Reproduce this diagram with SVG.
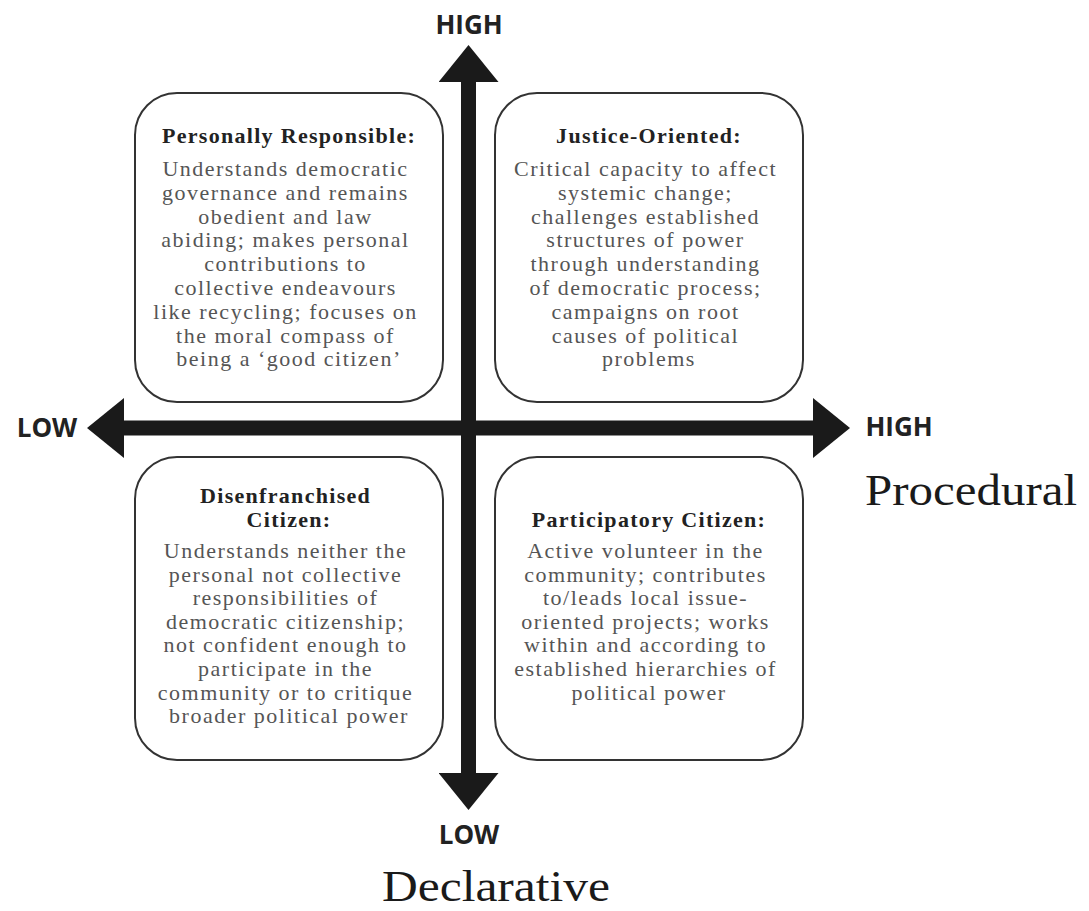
<svg xmlns="http://www.w3.org/2000/svg" width="1089" height="911" viewBox="0 0 1089 911">
  <style>
    .box { fill: #ffffff; stroke: #333333; stroke-width: 2; }
    .title { font-family: "Liberation Serif", "DejaVu Serif", serif; font-size: 22px; font-weight: bold; fill: #222222; text-anchor: middle; letter-spacing: 1.3px; }
    .body { font-family: "Liberation Serif", "DejaVu Serif", serif; font-size: 22px; fill: #555555; text-anchor: middle; letter-spacing: 1.5px; }
    .axis { fill: none; stroke: #1a1a1a; stroke-width: 15; }
    .level { font-family: "Open Sans", "DejaVu Sans", sans-serif; font-size: 26px; font-weight: bold; fill: #222222; text-anchor: middle; }
    .dim { font-family: "Liberation Serif", "DejaVu Serif", serif; font-size: 44px; fill: #1a1a1a; }
  </style>
  <defs>
    <marker id="head" viewBox="0 0 37 60" markerWidth="37" markerHeight="60" refX="0" refY="30" markerUnits="userSpaceOnUse" orient="auto-start-reverse">
      <path d="M0,0 L37,30 L0,60 z" fill="#1a1a1a"/>
    </marker>
  </defs>

  <rect width="1089" height="911" fill="#ffffff"/>

  <!-- quadrant boxes -->
  <g id="personally-responsible">
    <rect class="box" x="135" y="93" width="308" height="309" rx="42"/>
    <text class="title" x="289" y="143">Personally Responsible:</text>
    <text class="body">
      <tspan x="289" y="176">Understands democratic</tspan>
      <tspan x="289" y="199.8">governance and remains</tspan>
      <tspan x="289" y="223.6">obedient and law</tspan>
      <tspan x="289" y="247.4">abiding; makes personal</tspan>
      <tspan x="289" y="271.2">contributions to</tspan>
      <tspan x="289" y="295">collective endeavours</tspan>
      <tspan x="289" y="318.8">like recycling; focuses on</tspan>
      <tspan x="289" y="342.6">the moral compass of</tspan>
      <tspan x="289" y="366.4">being a ‘good citizen’</tspan>
    </text>
  </g>

  <g id="justice-oriented">
    <rect class="box" x="495" y="93" width="308" height="309" rx="42"/>
    <text class="title" x="649" y="143">Justice-Oriented:</text>
    <text class="body">
      <tspan x="649" y="176">Critical capacity to affect</tspan>
      <tspan x="649" y="199.8">systemic change;</tspan>
      <tspan x="649" y="223.6">challenges established</tspan>
      <tspan x="649" y="247.4">structures of power</tspan>
      <tspan x="649" y="271.2">through understanding</tspan>
      <tspan x="649" y="295">of democratic process;</tspan>
      <tspan x="649" y="318.8">campaigns on root</tspan>
      <tspan x="649" y="342.6">causes of political</tspan>
      <tspan x="649" y="366.4">problems</tspan>
    </text>
  </g>

  <g id="disenfranchised-citizen">
    <rect class="box" x="135" y="457" width="308" height="303" rx="42"/>
    <text class="title">
      <tspan x="289" y="503">Disenfranchised</tspan>
      <tspan x="289" y="527">Citizen:</tspan>
    </text>
    <text class="body">
      <tspan x="289" y="558">Understands neither the</tspan>
      <tspan x="289" y="581.6">personal not collective</tspan>
      <tspan x="289" y="605.2">responsibilities of</tspan>
      <tspan x="289" y="628.8">democratic citizenship;</tspan>
      <tspan x="289" y="652.4">not confident enough to</tspan>
      <tspan x="289" y="676">participate in the</tspan>
      <tspan x="289" y="699.6">community or to critique</tspan>
      <tspan x="289" y="723.2">broader political power</tspan>
    </text>
  </g>

  <g id="participatory-citizen">
    <rect class="box" x="495" y="457" width="308" height="303" rx="42"/>
    <text class="title" x="649" y="527">Participatory Citizen:</text>
    <text class="body">
      <tspan x="649" y="558">Active volunteer in the</tspan>
      <tspan x="649" y="581.6">community; contributes</tspan>
      <tspan x="649" y="605.2">to/leads local issue-</tspan>
      <tspan x="649" y="628.8">oriented projects; works</tspan>
      <tspan x="649" y="652.4">within and according to</tspan>
      <tspan x="649" y="676">established hierarchies of</tspan>
      <tspan x="649" y="699.6">political power</tspan>
    </text>
  </g>

  <!-- axes -->
  <g id="connectors">
    <line class="axis" x1="468.5" y1="82" x2="468.5" y2="773" marker-start="url(#head)" marker-end="url(#head)"/>
    <line class="axis" x1="124" y1="428" x2="813" y2="428" marker-start="url(#head)" marker-end="url(#head)"/>
  </g>

  <!-- axis labels -->
  <g id="axis-labels">
    <text class="level" x="469" y="34">HIGH</text>
    <text class="level" x="469" y="844">LOW</text>
    <text class="level" x="47" y="437">LOW</text>
    <text class="level" x="899" y="436">HIGH</text>
    <text class="dim" x="865" y="505" textLength="212" lengthAdjust="spacingAndGlyphs">Procedural</text>
    <text class="dim" x="382" y="901" font-size="42" textLength="228" lengthAdjust="spacingAndGlyphs">Declarative</text>
  </g>
</svg>
